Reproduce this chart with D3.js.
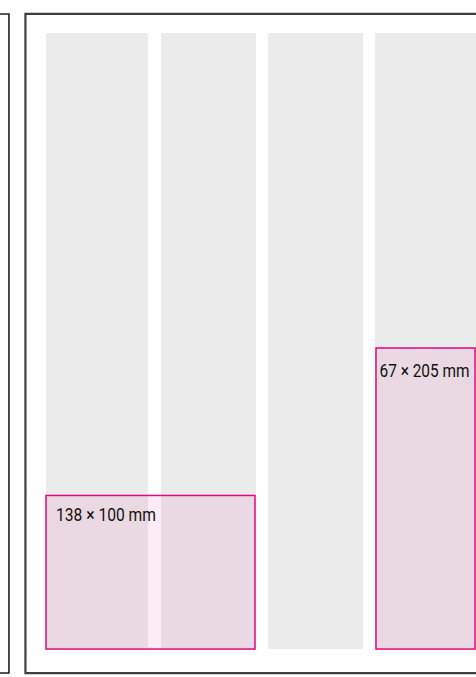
<!DOCTYPE html>
<html>
<head>
<meta charset="utf-8">
<script src="https://cdn.jsdelivr.net/npm/d3@7"></script>
<style>
  html, body { margin: 0; padding: 0; background: #fff; overflow: hidden; }
  svg { display: block; }
</style>
</head>
<body>
<svg id="chart" width="476" height="677"></svg>
<script>
// ---- data (millimetres on the page grid, origin = top-left of the type area) ----
const columnStartMm = [0, 76.7, 148, 219.3];
const columnEndMm   = [68, 140, 211.3, 300];
const gridTopMm = 0;
const gridBottomMm = 410.7;

const adLabels   = ["138 \u00d7 100 mm", "67 \u00d7 205 mm"];
const adLeftMm   = [0, 220];
const adRightMm  = [139.3, 286];
const adTopMm    = [308.3, 210];
const adBottomMm = [410.7, 410.7];

const pageLeftMm = -13.7;
const pageTopMm = -12.7;
const pageBottomMm = 426.7;
const prevPageRightMm = -24.7;

// ---- scales (1.5 px per mm) ----
const x = d3.scaleLinear().domain([0, 100]).range([46, 196]);
const y = d3.scaleLinear().domain([0, 100]).range([33, 183]);

const svg = d3.select("#chart");

// previous page (left, mostly off-screen)
svg.append("path")
  .attr("d", `M${x(-60)},${y(pageTopMm)} H${x(prevPageRightMm)} V${y(pageBottomMm)} H${x(-60)}`)
  .attr("fill", "none")
  .attr("stroke", "#222")
  .attr("stroke-width", 1.6);

// current page frame
svg.append("path")
  .attr("d", `M${x(400)},${y(pageTopMm)} H${x(pageLeftMm)} V${y(pageBottomMm)} H${x(400)}`)
  .attr("fill", "none")
  .attr("stroke", "#3f3f3f")
  .attr("stroke-width", 2.2);

// grey column grid
svg.append("g").selectAll("rect")
  .data(columnStartMm.map((s, i) => ({ s, e: columnEndMm[i] })))
  .join("rect")
  .attr("x", d => x(d.s))
  .attr("y", y(gridTopMm))
  .attr("width", d => x(d.e) - x(d.s))
  .attr("height", y(gridBottomMm) - y(gridTopMm))
  .attr("fill", "#ebebeb");

// ad boxes
const ads = adLabels.map((label, i) => ({
  label, l: adLeftMm[i], r: adRightMm[i], t: adTopMm[i], b: adBottomMm[i]
}));
const labelDx = [10, 3.5];
const labelDy = [26, 28.5];
const labelLen = [100, 90];

const g = svg.append("g");
g.selectAll("rect")
  .data(ads)
  .join("rect")
  .attr("x", d => x(d.l))
  .attr("y", d => y(d.t))
  .attr("width", d => x(d.r) - x(d.l))
  .attr("height", d => y(d.b) - y(d.t))
  .attr("fill", "rgba(230,0,126,0.075)")
  .attr("stroke", "#e2087f")
  .attr("stroke-width", 1.5);

g.selectAll("text")
  .data(ads)
  .join("text")
  .attr("x", (d, i) => x(d.l) + labelDx[i])
  .attr("y", (d, i) => y(d.t) + labelDy[i])
  .attr("textLength", (d, i) => labelLen[i])
  .attr("lengthAdjust", "spacingAndGlyphs")
  .attr("font-family", "Roboto, 'Noto Sans', sans-serif")
  .attr("font-size", 18)
  .attr("fill", "#111")
  .text(d => d.label);
</script>
</body>
</html>
